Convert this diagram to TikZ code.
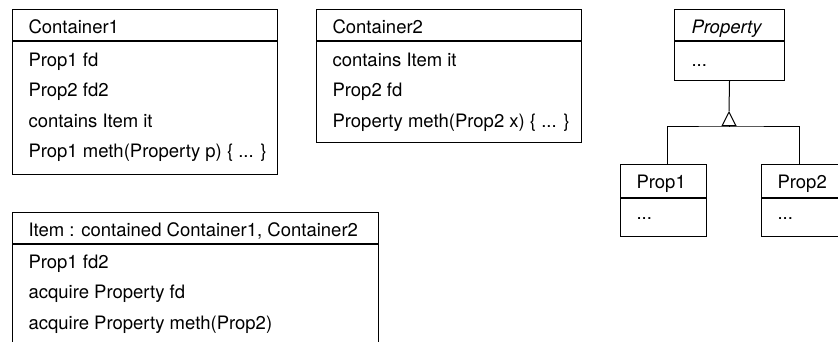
\documentclass[tikz,border=0pt]{standalone}
\usepackage{fontspec}
\setmainfont{TeX Gyre Heros}
\usetikzlibrary{arrows.meta}
\tikzset{
	box/.style={draw, line width=1pt, anchor=north west, inner sep=0pt},
	txt/.style={anchor=base west, inner sep=0pt, font=\fontsize{18.5}{22}\selectfont},
}
\begin{document}
\begin{tikzpicture}[x=1pt, y=-1pt, line width=1pt]
	\useasboundingbox (0,0) rectangle (838,341);
	\clip (0,0) rectangle (838,341);
	% Container1
	\node[box, minimum width=265, minimum height=31] (c1head) at (12, 9) {};
	\node[box, minimum width=265, minimum height=133] (c1body) at (c1head.south west) {};
	\node[txt] (c1name) at (28, 33.5) {Container1};
	\node[txt] (c1r1) at (28, 66) {Prop1 fd};
	\node[txt] (c1r2) at (28, 96.5) {Prop2 fd2};
	\node[txt] (c1r3) at (28, 127) {contains Item it};
	\node[txt] (c1r4) at (28, 157.5) {Prop1 meth(Property p) \{ ... \}};
	% Container2
	\node[box, minimum width=265, minimum height=31] (c2head) at (316, 9) {};
	\node[box, minimum width=265, minimum height=101] (c2body) at (c2head.south west) {};
	\node[txt] (c2name) at (332, 33.5) {Container2};
	\node[txt] (c2r1) at (332, 66) {contains Item it};
	\node[txt] (c2r2) at (332, 96.5) {Prop2 fd};
	\node[txt] (c2r3) at (332, 127) {Property meth(Prop2 x) \{ ... \}};
	% Item
	\node[box, minimum width=366, minimum height=31] (ithead) at (12, 212) {};
	\node[box, minimum width=366, minimum height=117] (itbody) at (ithead.south west) {};
	\node[txt] (itname) at (28, 236.5) {Item : contained Container1, Container2};
	\node[txt] (itr1) at (28, 268) {Prop1 fd2};
	\node[txt] (itr2) at (28, 298.5) {acquire Property fd};
	\node[txt] (itr3) at (28, 329) {acquire Property meth(Prop2)};
	% Property
	\node[box, minimum width=110, minimum height=31] (prhead) at (674, 9) {};
	\node[box, minimum width=110, minimum height=39] (property) at (prhead.south west) {};
	\node[txt] (prname) at (691, 33.5) {\itshape Property};
	\node[txt] (prr1) at (691, 66) {...};
	% Prop1
	\node[box, minimum width=86, minimum height=32.5] (prop1) at (620, 164) {};
	\node[box, minimum width=86, minimum height=38] (p1body) at (prop1.south west) {};
	\node[txt] (p1name) at (636, 188.5) {Prop1};
	\node[txt] (p1r1) at (636, 219) {...};
	% Prop2
	\node[box, minimum width=86, minimum height=32.5] (prop2) at (761, 164) {};
	\node[box, minimum width=86, minimum height=38] (p2body) at (prop2.south west) {};
	\node[txt] (p2name) at (777, 188.5) {Prop2};
	\node[txt] (p2r1) at (777, 219) {...};
	% generalization
	\coordinate (hub) at (729, 126);
	\coordinate (apex) at (729, 111);
	\draw ([xshift=4pt]prop1.north) |- (hub) -| ([xshift=-5pt]prop2.north);
	\draw[-{Triangle[open, length=15pt, width=15pt]}] (hub) -- (apex);
	\draw (apex) -- (property.south);
\end{tikzpicture}
\end{document}
